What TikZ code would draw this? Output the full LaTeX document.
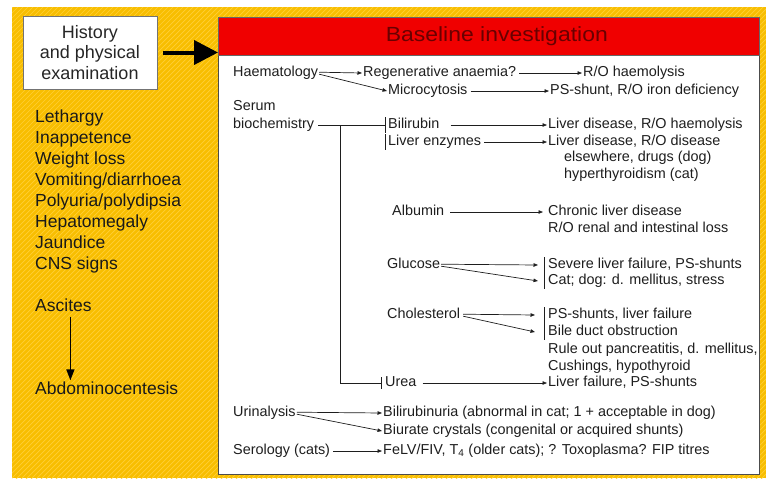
\documentclass[tikz,border=0pt]{standalone}
\usepackage{fontspec}
\setmainfont{Liberation Sans}
\newfontfamily\headfont[FakeStretch=1.12]{Liberation Sans}
\usepackage{xcolor}
\usetikzlibrary{arrows.meta}

\definecolor{panelyellow}{RGB}{248,190,0}
\definecolor{stripeyellow}{RGB}{255,207,55}
\definecolor{headred}{RGB}{240,0,0}
\definecolor{headtext}{RGB}{105,0,0}
\definecolor{inktext}{RGB}{30,30,30}

\begin{document}
\begin{tikzpicture}[
        x=1pt, y=-1pt,
        histbox/.style={rectangle, draw=black!55, line width=0.8pt, fill=white, minimum width=134pt, minimum height=73pt, align=center, font=\fontsize{18}{20.5}\selectfont, text=black!85},
        sign/.style={anchor=west, inner sep=1pt, text height=13pt, text depth=4pt, font=\fontsize{17.5}{20}\selectfont, text=black!90},
        row/.style={anchor=west, inner sep=1pt, text height=10pt, text depth=3pt, font=\fontsize{14.4}{16.5}\selectfont, text=inktext},
        link/.style={line width=0.7pt, draw=inktext},
        arr/.style={link, -{Triangle[length=4.5pt,width=3.5pt]}},
        bracket/.style={line width=0.6pt, draw=inktext}
    ]
    \useasboundingbox (0,0) rectangle (766,480);

    % Background
    \fill[panelyellow] (12,7) rectangle (766,478);
    \begin{scope}
        \clip (12,7) rectangle (766,478);
        \foreach \k in {0,5,...,1250}
            \draw[stripeyellow, line width=0.7pt] (\k-480,480) -- (\k,0);
    \end{scope}

    % Panel and header
    \node[draw=black!70, line width=0.6pt, fill=white, anchor=north west, minimum width=541pt, minimum height=419pt, inner sep=0pt] (panel) at (218,55) {};
    \node[draw=black!60, line width=0.6pt, fill=headred, anchor=north west, minimum width=541pt, minimum height=38pt, inner sep=0pt, text=headtext, font=\headfont\fontsize{20.5}{22}\selectfont] (header) at (218,17) {\hspace{16pt}Baseline investigation};

    % Left column
    \node[histbox] (history) at (90,52.5) {History\\and physical\\examination};
    \draw[line width=4pt, -{Triangle[length=24pt,width=24pt]}] ([xshift=6pt]history.east) -- (header.west |- history.east);

    \foreach \s [count=\i] in {Lethargy, Inappetence, Weight loss, Vomiting/diarrhoea, Polyuria/polydipsia, Hepatomegaly, Jaundice, CNS signs}
        \node[sign] (sign\i) at (34,{118+21*(\i-1)}) {\s};
    \node[sign] (ascites) at (34,307) {Ascites};
    \node[sign] (abdo) at (34,390) {Abdominocentesis};
    \draw[line width=1.5pt, -{Triangle[length=11pt,width=8pt]}] ([xshift=7pt]ascites.south) -- ([xshift=7pt]ascites.south |- abdo.north);

    % Haematology
    \node[row] (hem) at (232,73) {Haematology};
    \node[row] (regen) at (362,73) {Regenerative anaemia?};
    \node[row] (rohaem) at (582,73) {R/O haemolysis};
    \node[row] (micro) at (387,91) {Microcytosis};
    \node[row] (psshunt) at (549,91) {PS-shunt, R/O iron deficiency};

    % Serum biochemistry
    \node[row] (serum) at (232,107) {Serum};
    \node[row] (bio) at (232,125) {biochemistry};
    \node[row] (bili) at (387,125) {Bilirubin};
    \node[row] (ldis) at (547,125) {Liver disease, R/O haemolysis};
    \node[row] (enz) at (387,142) {Liver enzymes};
    \node[row] (ldisb) at (547,142) {Liver disease, R/O disease};
    \node[row] (elsew) at (563,158) {elsewhere, drugs (dog)};
    \node[row] (hyper) at (563,175) {hyperthyroidism (cat)};
    \node[row] (alb) at (391,212) {Albumin};
    \node[row] (chronic) at (547,212) {Chronic liver disease};
    \node[row] (renal) at (547,229) {R/O renal and intestinal loss};
    \node[row] (glu) at (386,265) {Glucose};
    \node[row] (severe) at (547,265) {Severe liver failure, PS-shunts};
    \node[row] (catdog) at (547,281) {Cat; dog: d. mellitus, stress};
    \node[row] (chol) at (386,315) {Cholesterol};
    \node[row] (psliver) at (547,315) {PS-shunts, liver failure};
    \node[row] (bile) at (547,332) {Bile duct obstruction};
    \node[row] (ruleout) at (547,350) {Rule out pancreatitis, d. mellitus,};
    \node[row] (cush) at (547,367) {Cushings, hypothyroid};
    \node[row] (urea) at (384,383) {Urea};
    \node[row] (lfail) at (547,383) {Liver failure, PS-shunts};
    \coordinate (trunk) at (340,125);

    % Urinalysis and serology
    \node[row] (uri) at (232,413) {Urinalysis};
    \node[row] (biliuria) at (382,413) {Bilirubinuria (abnormal in cat; 1 + acceptable in dog)};
    \node[row] (biurate) at (382,431) {Biurate crystals (congenital or acquired shunts)};
    \node[row] (sero) at (232,451) {Serology (cats)};
    \node[row] (felv) at (382,451) {FeLV/FIV, T\textsubscript{4} (older cats); ? Toxoplasma? FIP titres};

    % Arrows
    \draw[arr] ([yshift=0.8pt]hem.east) -- (regen.west);
    \draw[arr] ([yshift=-1.2pt]hem.east) -- (micro.west);
    \draw[arr] ([xshift=2pt]regen.east) -- (rohaem.west);
    \draw[arr] ([xshift=2pt]micro.east) -- (psshunt.west);

    \draw[link] ([xshift=3pt]bio.east) -- ([xshift=-2pt]bili.west);
    \draw[link] (trunk) |- ([xshift=-3pt]urea.west);
    \draw[bracket] ([xshift=-2pt]bili.north west) -- ([xshift=-2pt]bili.south west);
    \draw[bracket] ([xshift=-2pt]enz.north west) -- ([xshift=-2pt]enz.south west);
    \draw[bracket] ([xshift=-3pt,yshift=-2pt]urea.north west) -- ([xshift=-3pt,yshift=2pt]urea.south west);

    \draw[arr] ([xshift=10pt]bili.east) -- (ldis.west);
    \draw[arr] ([xshift=2pt]enz.east) -- (ldisb.west);
    \draw[arr] ([xshift=5pt]alb.east) -- ([xshift=-4pt]chronic.west);
    \draw[arr] ([yshift=0.8pt]glu.east) -- ([xshift=-9pt]severe.west);
    \draw[arr] ([yshift=-1.2pt]glu.east) -- ([xshift=-9pt]catdog.west);
    \draw[bracket] ([xshift=-3pt]severe.north west) -- ([xshift=-3pt]catdog.south west);
    \draw[arr] ([xshift=2pt,yshift=0.8pt]chol.east) -- ([xshift=-12pt]psliver.west);
    \draw[arr] ([xshift=2pt,yshift=-1.2pt]chol.east) -- ([xshift=-12pt]bile.west);
    \draw[bracket] ([xshift=-3pt]psliver.north west) -- ([xshift=-3pt]bile.south west);
    \draw[arr] ([xshift=5pt]urea.east) -- (lfail.west);

    \draw[arr] ([yshift=0.8pt]uri.east) -- (biliuria.west);
    \draw[arr] ([yshift=-1.2pt]uri.east) -- (biurate.west);
    \draw[arr] ([xshift=2pt]sero.east) -- (felv.west);
\end{tikzpicture}
\end{document}
